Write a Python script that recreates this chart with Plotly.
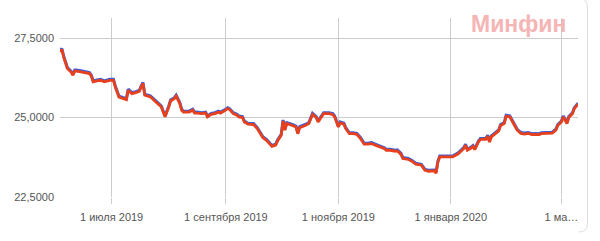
import plotly.graph_objects as go

dates = [
    "2019-06-03", "2019-06-04", "2019-06-05", "2019-06-07", "2019-06-09", "2019-06-10", "2019-06-11", "2019-06-12", "2019-06-15", "2019-06-19",
    "2019-06-20", "2019-06-21", "2019-06-23", "2019-06-25", "2019-06-27", "2019-06-30", "2019-07-02", "2019-07-03", "2019-07-05", "2019-07-07",
    "2019-07-09", "2019-07-10", "2019-07-12", "2019-07-14", "2019-07-16", "2019-07-17", "2019-07-18", "2019-07-19", "2019-07-22", "2019-07-25",
    "2019-07-28", "2019-07-29", "2019-07-30", "2019-08-01", "2019-08-02", "2019-08-04", "2019-08-05", "2019-08-07", "2019-08-08", "2019-08-09",
    "2019-08-12", "2019-08-14", "2019-08-15", "2019-08-16", "2019-08-19", "2019-08-21", "2019-08-22", "2019-08-24", "2019-08-26", "2019-08-28",
    "2019-08-29", "2019-08-31", "2019-09-02", "2019-09-03", "2019-09-05", "2019-09-07", "2019-09-08", "2019-09-10", "2019-09-11", "2019-09-13",
    "2019-09-16", "2019-09-18", "2019-09-20", "2019-09-21", "2019-09-23", "2019-09-26", "2019-09-28", "2019-09-29", "2019-10-01", "2019-10-02",
    "2019-10-03", "2019-10-04", "2019-10-07", "2019-10-09", "2019-10-10", "2019-10-11", "2019-10-14", "2019-10-16", "2019-10-18", "2019-10-20",
    "2019-10-21", "2019-10-23", "2019-10-24", "2019-10-27", "2019-10-29", "2019-10-30", "2019-11-01", "2019-11-02", "2019-11-04", "2019-11-05",
    "2019-11-07", "2019-11-09", "2019-11-11", "2019-11-13", "2019-11-15", "2019-11-17", "2019-11-19", "2019-11-21", "2019-11-24", "2019-11-26",
    "2019-11-27", "2019-11-29", "2019-12-02", "2019-12-03", "2019-12-05", "2019-12-06", "2019-12-09", "2019-12-11", "2019-12-13", "2019-12-15",
    "2019-12-16", "2019-12-18", "2019-12-20", "2019-12-23", "2019-12-24", "2019-12-25", "2019-12-26", "2019-12-29", "2020-01-02", "2020-01-05",
    "2020-01-07", "2020-01-08", "2020-01-09", "2020-01-10", "2020-01-12", "2020-01-13", "2020-01-14", "2020-01-15", "2020-01-16", "2020-01-17",
    "2020-01-20", "2020-01-21", "2020-01-22", "2020-01-23", "2020-01-25", "2020-01-27", "2020-01-28", "2020-01-30", "2020-01-31", "2020-02-02",
    "2020-02-04", "2020-02-06", "2020-02-08", "2020-02-10", "2020-02-12", "2020-02-14", "2020-02-16", "2020-02-18", "2020-02-19", "2020-02-22",
    "2020-02-25", "2020-02-27", "2020-02-28", "2020-03-01", "2020-03-02", "2020-03-04", "2020-03-05", "2020-03-07", "2020-03-08", "2020-03-10",
]

red_values = [
    27.06, 27.14, 26.90, 26.54, 26.43, 26.33, 26.46, 26.46, 26.43, 26.38,
    26.30, 26.12, 26.15, 26.17, 26.12, 26.17, 26.17, 25.96, 25.64, 25.59,
    25.56, 25.86, 25.75, 25.78, 25.82, 25.96, 26.07, 25.70, 25.65, 25.49,
    25.33, 25.17, 25.02, 25.33, 25.52, 25.59, 25.67, 25.44, 25.23, 25.17,
    25.17, 25.23, 25.14, 25.14, 25.12, 25.14, 25.02, 25.10, 25.12, 25.17,
    25.14, 25.20, 25.28, 25.25, 25.12, 25.07, 25.02, 25.00, 24.86, 24.79,
    24.78, 24.65, 24.44, 24.37, 24.28, 24.09, 24.13, 24.26, 24.44, 24.89,
    24.60, 24.81, 24.75, 24.70, 24.49, 24.68, 24.75, 24.81, 25.10, 25.00,
    24.86, 25.02, 25.12, 25.12, 25.09, 25.02, 24.70, 24.83, 24.79, 24.65,
    24.49, 24.49, 24.47, 24.34, 24.16, 24.16, 24.18, 24.13, 24.07, 24.02,
    23.97, 23.97, 23.94, 23.95, 23.84, 23.71, 23.68, 23.62, 23.53, 23.52,
    23.50, 23.34, 23.31, 23.32, 23.25, 23.60, 23.76, 23.76, 23.76, 23.86,
    23.97, 24.02, 24.13, 23.97, 24.04, 24.09, 23.99, 24.13, 24.23, 24.31,
    24.31, 24.41, 24.23, 24.39, 24.49, 24.58, 24.75, 24.81, 25.04, 25.02,
    24.81, 24.60, 24.50, 24.48, 24.50, 24.46, 24.47, 24.46, 24.49, 24.49,
    24.51, 24.60, 24.75, 24.86, 25.02, 24.81, 25.00, 25.12, 25.28, 25.42,
]

blue_values = [
    27.09, 27.17, 26.93, 26.57, 26.46, 26.36, 26.49, 26.49, 26.46, 26.41,
    26.33, 26.15, 26.18, 26.20, 26.15, 26.20, 26.20, 25.99, 25.67, 25.62,
    25.59, 25.89, 25.78, 25.81, 25.85, 25.99, 26.10, 25.73, 25.68, 25.52,
    25.36, 25.20, 25.05, 25.36, 25.55, 25.62, 25.70, 25.47, 25.26, 25.20,
    25.20, 25.26, 25.17, 25.17, 25.15, 25.17, 25.05, 25.13, 25.15, 25.20,
    25.17, 25.23, 25.31, 25.28, 25.15, 25.10, 25.05, 25.03, 24.89, 24.82,
    24.81, 24.68, 24.47, 24.40, 24.31, 24.12, 24.16, 24.29, 24.47, 24.92,
    24.63, 24.84, 24.78, 24.73, 24.52, 24.71, 24.78, 24.84, 25.13, 25.03,
    24.89, 25.05, 25.15, 25.15, 25.12, 25.05, 24.73, 24.86, 24.82, 24.68,
    24.52, 24.52, 24.50, 24.37, 24.19, 24.19, 24.21, 24.16, 24.10, 24.05,
    24.00, 24.00, 23.97, 23.98, 23.87, 23.74, 23.71, 23.65, 23.56, 23.55,
    23.53, 23.37, 23.34, 23.35, 23.28, 23.63, 23.79, 23.79, 23.79, 23.89,
    24.00, 24.05, 24.16, 24.00, 24.07, 24.12, 24.02, 24.16, 24.26, 24.34,
    24.34, 24.44, 24.26, 24.42, 24.52, 24.61, 24.78, 24.84, 25.07, 25.05,
    24.84, 24.63, 24.53, 24.51, 24.53, 24.49, 24.50, 24.49, 24.52, 24.52,
    24.54, 24.63, 24.78, 24.89, 25.05, 24.84, 25.03, 25.15, 25.31, 25.45,
]

y_tickvals = [22.5, 25.0, 27.5]
x_tickvals = ["2019-07-01", "2019-09-01", "2019-11-01", "2020-01-01", "2020-03-01"]
x_ticktext = ["1 июля 2019", "1 сентября 2019", "1 ноября 2019", "1 января 2020", "1 ма…"]
watermark = "<b>Минфин</b>"

W, H = 600, 241
L, R, T, B = 60, 22, 18, 44
PW, PH = W - L - R, H - T - B


def px(x):
    return (x - L) / PW


def py(y):
    return (H - B - y) / PH


fig = go.Figure()
fig.add_trace(go.Scatter(x=dates, y=blue_values, mode="lines",
                         line=dict(color="#3d5fd6", width=3), hoverinfo="skip"))
fig.add_trace(go.Scatter(x=dates, y=red_values, mode="lines",
                         line=dict(color="#e8401c", width=2.8), hoverinfo="skip"))

fig.update_layout(
    width=W, height=H,
    margin=dict(l=L, r=R, t=T, b=B, pad=0),
    paper_bgcolor="white", plot_bgcolor="white",
    showlegend=False,
    separators=", ",
    font=dict(family="Arial, 'Liberation Sans', sans-serif", size=11, color="#555555"),
    xaxis=dict(
        type="date",
        range=["2019-06-03", "2020-03-10"],
        tickvals=x_tickvals, ticktext=x_ticktext,
        showgrid=True, gridcolor="#cccccc", gridwidth=1,
        ticks="outside", ticklen=6, tickcolor="#cccccc", tickwidth=1,
        ticklabelstandoff=4,
        showline=False, zeroline=False,
        fixedrange=True,
    ),
    yaxis=dict(
        range=[22.5, 22.5 + PH / 31.8],
        tickvals=y_tickvals, tickformat=".4f",
        showgrid=True, gridcolor="#cccccc", gridwidth=1,
        showline=False, zeroline=False, ticks="",
        ticklabelstandoff=5,
        fixedrange=True,
    ),
    annotations=[dict(
        text=watermark, xref="paper", yref="paper",
        x=px(518), y=py(24), xanchor="center", yanchor="middle",
        showarrow=False,
        font=dict(family="Arial, 'Liberation Sans', sans-serif", size=23, color="#f5b5b5"),
    )],
    shapes=[dict(
        type="path", xref="paper", yref="paper",
        path=(f"M {px(578)},{py(-2)} Q {px(587.5)},{py(-2)} {px(587.5)},{py(8)} "
              f"L {px(587.5)},{py(223)} Q {px(587.5)},{py(232)} {px(579)},{py(232)}"),
        line=dict(color="#dddddd", width=1),
    )],
)

fig.write_html("out.html")
